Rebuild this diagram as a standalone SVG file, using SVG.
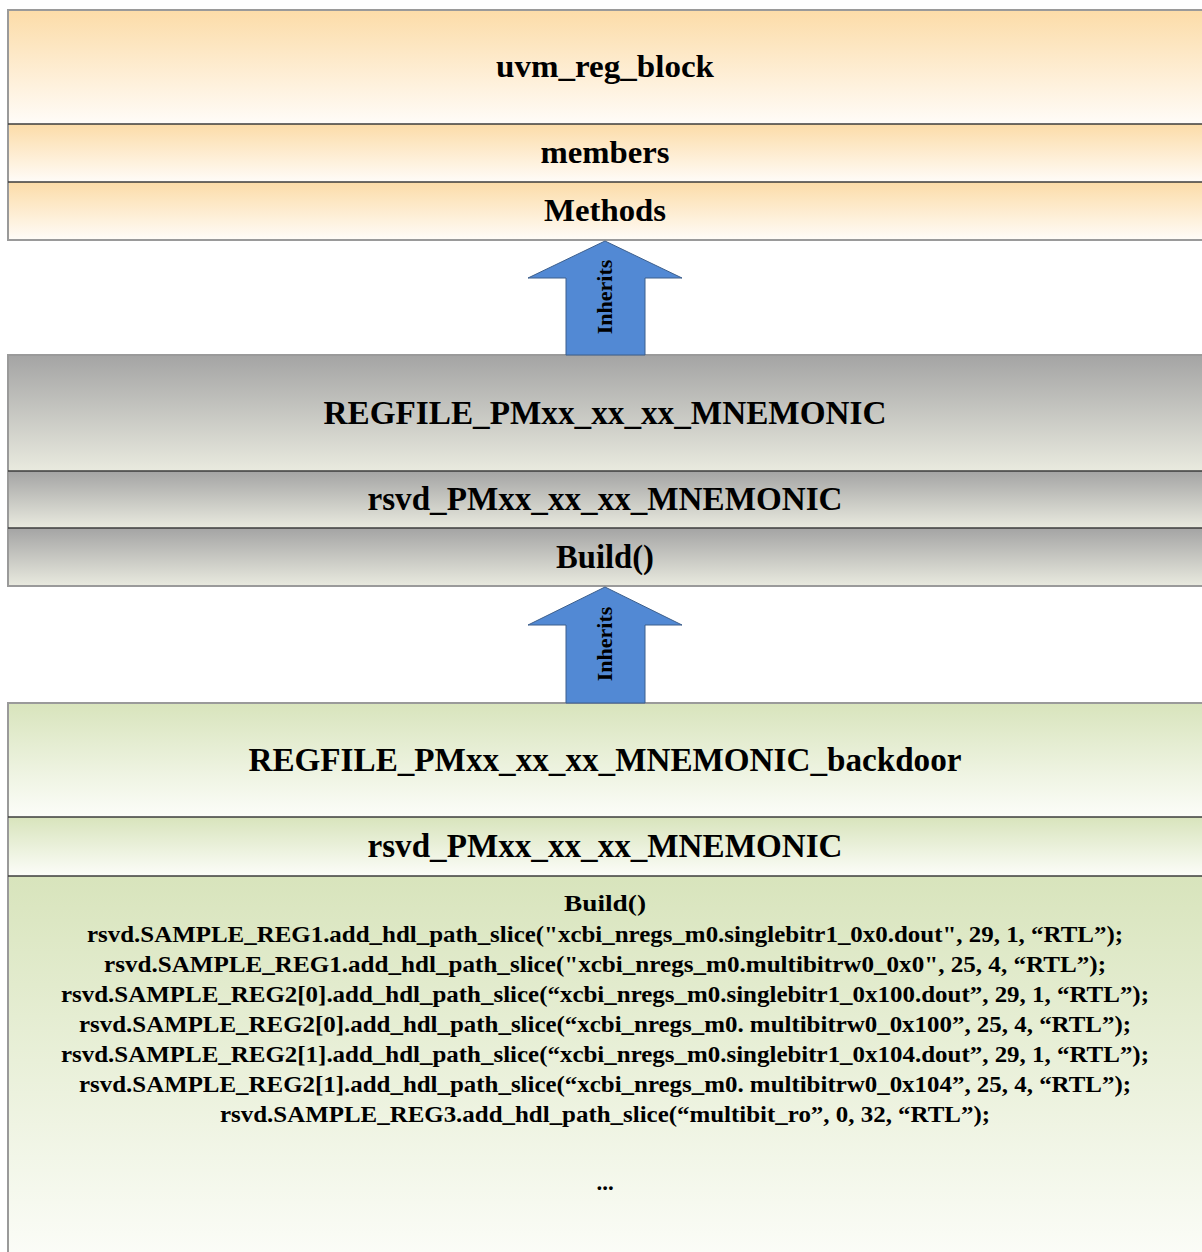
<svg xmlns="http://www.w3.org/2000/svg" width="1202" height="1252" viewBox="0 0 1202 1252">
  <defs>
    <linearGradient id="gOrange" x1="0" y1="0" x2="0" y2="1">
      <stop offset="0" stop-color="#fcdca8"/>
      <stop offset="1" stop-color="#fffcf8"/>
    </linearGradient>
    <linearGradient id="gGray" x1="0" y1="0" x2="0" y2="1">
      <stop offset="0" stop-color="#a4a4a4"/>
      <stop offset="1" stop-color="#e9eadf"/>
    </linearGradient>
    <linearGradient id="gGreen" x1="0" y1="0" x2="0" y2="1">
      <stop offset="0" stop-color="#d8e4bc"/>
      <stop offset="1" stop-color="#fcfdf9"/>
    </linearGradient>
    <style>
      .outer { fill: none; stroke: #9a9a9a; stroke-width: 2; }
      .div { stroke: #3c3c3c; stroke-width: 1.5; }
      .t { font-family: "Liberation Serif", "Times New Roman", serif; font-weight: bold; fill: #000; text-anchor: middle; }
      .big { font-size: 33px; }
      .mid { font-size: 32px; }
      .code { font-size: 23px; }
      .arrow { fill: #5289d4; stroke: #3d5f8c; stroke-width: 1; }
      .lbl { font-family: "Liberation Serif", "Times New Roman", serif; font-weight: bold; font-size: 22px; fill: #000; text-anchor: middle; }
    </style>
  </defs>
  <rect width="1202" height="1252" fill="#fff"/>

  <!-- base class -->
  <g id="uvm_reg_block">
    <rect x="8" y="10" width="1200" height="114" fill="url(#gOrange)"/>
    <rect x="8" y="124" width="1200" height="58" fill="url(#gOrange)"/>
    <rect x="8" y="182" width="1200" height="58" fill="url(#gOrange)"/>
    <rect x="8" y="10" width="1200" height="230" class="outer"/>
    <line x1="8" y1="124" x2="1202" y2="124" class="div"/>
    <line x1="8" y1="182" x2="1202" y2="182" class="div"/>
    <text x="605" y="77" class="t mid" textLength="218" lengthAdjust="spacingAndGlyphs">uvm_reg_block</text>
    <text x="605" y="163" class="t mid" textLength="129" lengthAdjust="spacingAndGlyphs">members</text>
    <text x="605" y="221" class="t mid" textLength="122" lengthAdjust="spacingAndGlyphs">Methods</text>
  </g>

  <!-- register file class -->
  <g id="regfile">
    <rect x="8" y="355" width="1200" height="116" fill="url(#gGray)"/>
    <rect x="8" y="471" width="1200" height="57" fill="url(#gGray)"/>
    <rect x="8" y="528" width="1200" height="58" fill="url(#gGray)"/>
    <rect x="8" y="355" width="1200" height="231" class="outer"/>
    <line x1="8" y1="471" x2="1202" y2="471" class="div"/>
    <line x1="8" y1="528" x2="1202" y2="528" class="div"/>
    <text x="605" y="424" class="t big" textLength="563" lengthAdjust="spacingAndGlyphs">REGFILE_PMxx_xx_xx_MNEMONIC</text>
    <text x="605" y="510" class="t big" textLength="475" lengthAdjust="spacingAndGlyphs">rsvd_PMxx_xx_xx_MNEMONIC</text>
    <text x="605" y="568" class="t big" textLength="98" lengthAdjust="spacingAndGlyphs">Build()</text>
  </g>

  <!-- backdoor register file class -->
  <g id="regfile_backdoor">
    <rect x="8" y="703" width="1200" height="114" fill="url(#gGreen)"/>
    <rect x="8" y="817" width="1200" height="59" fill="url(#gGreen)"/>
    <rect x="8" y="876" width="1200" height="390" fill="url(#gGreen)"/>
    <rect x="8" y="703" width="1200" height="560" class="outer"/>
    <line x1="8" y1="817" x2="1202" y2="817" class="div"/>
    <line x1="8" y1="876" x2="1202" y2="876" class="div"/>
    <text x="605" y="771" class="t big" textLength="713" lengthAdjust="spacingAndGlyphs">REGFILE_PMxx_xx_xx_MNEMONIC_backdoor</text>
    <text x="605" y="857" class="t big" textLength="475" lengthAdjust="spacingAndGlyphs">rsvd_PMxx_xx_xx_MNEMONIC</text>
    <text x="605" y="911" class="t code" textLength="82" lengthAdjust="spacingAndGlyphs">Build()</text>
    <text x="605" y="942" class="t code" textLength="1036" lengthAdjust="spacingAndGlyphs">rsvd.SAMPLE_REG1.add_hdl_path_slice("xcbi_nregs_m0.singlebitr1_0x0.dout", 29, 1, “RTL”);</text>
    <text x="605" y="972" class="t code" textLength="1002" lengthAdjust="spacingAndGlyphs">rsvd.SAMPLE_REG1.add_hdl_path_slice("xcbi_nregs_m0.multibitrw0_0x0", 25, 4, “RTL”);</text>
    <text x="605" y="1002" class="t code" textLength="1088" lengthAdjust="spacingAndGlyphs">rsvd.SAMPLE_REG2[0].add_hdl_path_slice(“xcbi_nregs_m0.singlebitr1_0x100.dout”, 29, 1, “RTL”);</text>
    <text x="605" y="1032" class="t code" textLength="1052" lengthAdjust="spacingAndGlyphs">rsvd.SAMPLE_REG2[0].add_hdl_path_slice(“xcbi_nregs_m0. multibitrw0_0x100”, 25, 4, “RTL”);</text>
    <text x="605" y="1062" class="t code" textLength="1088" lengthAdjust="spacingAndGlyphs">rsvd.SAMPLE_REG2[1].add_hdl_path_slice(“xcbi_nregs_m0.singlebitr1_0x104.dout”, 29, 1, “RTL”);</text>
    <text x="605" y="1092" class="t code" textLength="1052" lengthAdjust="spacingAndGlyphs">rsvd.SAMPLE_REG2[1].add_hdl_path_slice(“xcbi_nregs_m0. multibitrw0_0x104”, 25, 4, “RTL”);</text>
    <text x="605" y="1122" class="t code" textLength="770" lengthAdjust="spacingAndGlyphs">rsvd.SAMPLE_REG3.add_hdl_path_slice(“multibit_ro”, 0, 32, “RTL”);</text>
    <text x="605" y="1190" class="t code">...</text>
  </g>

  <!-- inheritance arrows -->
  <g id="connectors">
    <g id="inherit1">
      <polygon class="arrow" points="605,241 682,278 645,278 645,355 566,355 566,278 528,278"/>
      <text class="lbl" transform="translate(612,297) rotate(-90)">Inherits</text>
    </g>
    <g id="inherit2">
      <polygon class="arrow" points="605,587 682,625 645,625 645,703 566,703 566,625 528,625"/>
      <text class="lbl" transform="translate(612,644) rotate(-90)">Inherits</text>
    </g>
  </g>
</svg>
